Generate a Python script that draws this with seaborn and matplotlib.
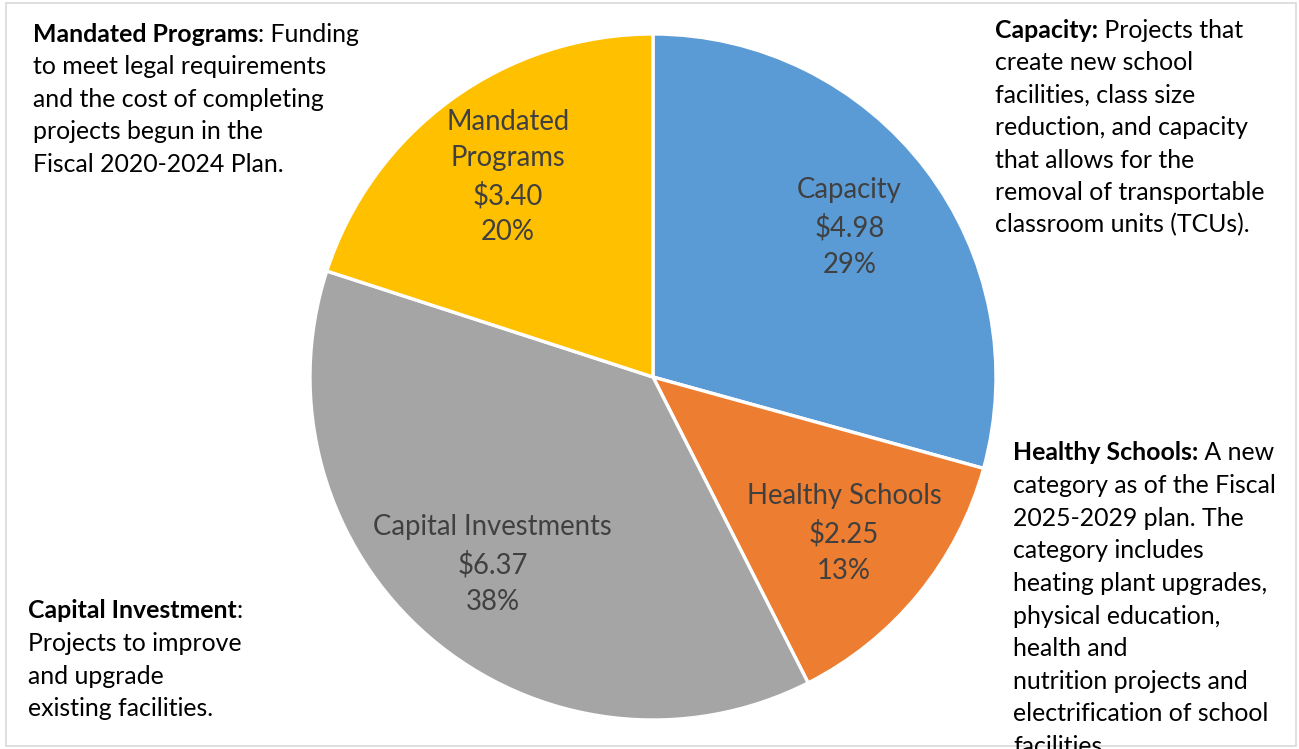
import matplotlib
matplotlib.use("Agg")
import matplotlib.pyplot as plt
import seaborn as sns
from matplotlib.patches import Rectangle

categories = ["Capacity", "Healthy Schools", "Capital Investments", "Mandated\nPrograms"]
values = [4.98, 2.25, 6.37, 3.40]
pct_labels = ["29%", "13%", "38%", "20%"]
colors = ["#5B9BD5", "#ED7D31", "#A5A5A5", "#FFC000"]

notes = {
    "mandated": ("Mandated Programs", ": Funding",
                 ["to meet legal requirements", "and the cost of completing",
                  "projects begun in the", "Fiscal 2020-2024 Plan."]),
    "capacity": ("Capacity:", " Projects that",
                 ["create new school", "facilities, class size",
                  "reduction, and capacity", "that allows for the",
                  "removal of transportable", "classroom units (TCUs)."]),
    "healthy": ("Healthy Schools:", " A new",
                ["category as of the Fiscal", "2025-2029 plan. The",
                 "category includes", "heating plant upgrades,",
                 "physical education,", "health and",
                 "nutrition projects and", "electrification of school",
                 "facilities."]),
    "capital": ("Capital Investment", ":",
                ["Projects to improve", "and upgrade", "existing facilities."]),
}

sns.set_style("white")
plt.rcParams["font.family"] = ["Lato", "DejaVu Sans"]

W, H = 1299, 749
fig = plt.figure(figsize=(W / 100, H / 100), dpi=100)
fig.patch.set_facecolor("white")

# pie axes: centre (653, 377) px, radius 343 px
cx, cy, r = 653, 377, 343
ax = fig.add_axes([(cx - r) / W, (H - cy - r) / H, 2 * r / W, 2 * r / H])

lab_iter = iter(range(len(values)))

def make_label(pct):
    i = next(lab_iter)
    return f"{categories[i]}\n${values[i]:.2f}\n{pct_labels[i]}"

wedges, texts, autotexts = ax.pie(
    values, colors=colors, startangle=90, counterclock=False,
    autopct=make_label, pctdistance=0.72,
    wedgeprops=dict(edgecolor="white", linewidth=2.4),
    textprops=dict(color="#404040", fontsize=19.8, linespacing=1.48),
)
for t in autotexts:
    t.set_ha("center")
    t.set_va("center")
    t.set_multialignment("center")
ax.set_xlim(-1, 1)
ax.set_ylim(-1, 1)
ax.set_aspect("auto")
ax.axis("off")

# frame
fig.patches.append(Rectangle((6 / W, 3 / H), (1296 - 6) / W, (746 - 3) / H,
                             transform=fig.transFigure, fill=False,
                             edgecolor="#D9D9D9", linewidth=1.2))

renderer = fig.canvas.get_renderer()
fs = 17.9

def note(key, x, y0, step):
    bold, rest, lines = notes[key]
    t = fig.text(x / W, 1 - y0 / H, bold, fontsize=fs, fontweight="bold",
                 color="black", ha="left", va="center")
    bb = t.get_window_extent(renderer=renderer)
    fig.text(bb.x1 / W, 1 - y0 / H, rest, fontsize=fs, color="black",
             ha="left", va="center")
    for k, line in enumerate(lines, start=1):
        fig.text(x / W, 1 - (y0 + k * step) / H, line, fontsize=fs,
                 color="black", ha="left", va="center")

note("mandated", 33, 34, 32.6)
note("capacity", 995, 30, 32.5)
note("healthy", 1013, 453, 32.6)
note("capital", 28, 611, 32.6)

fig.savefig("out.png", dpi=100)
